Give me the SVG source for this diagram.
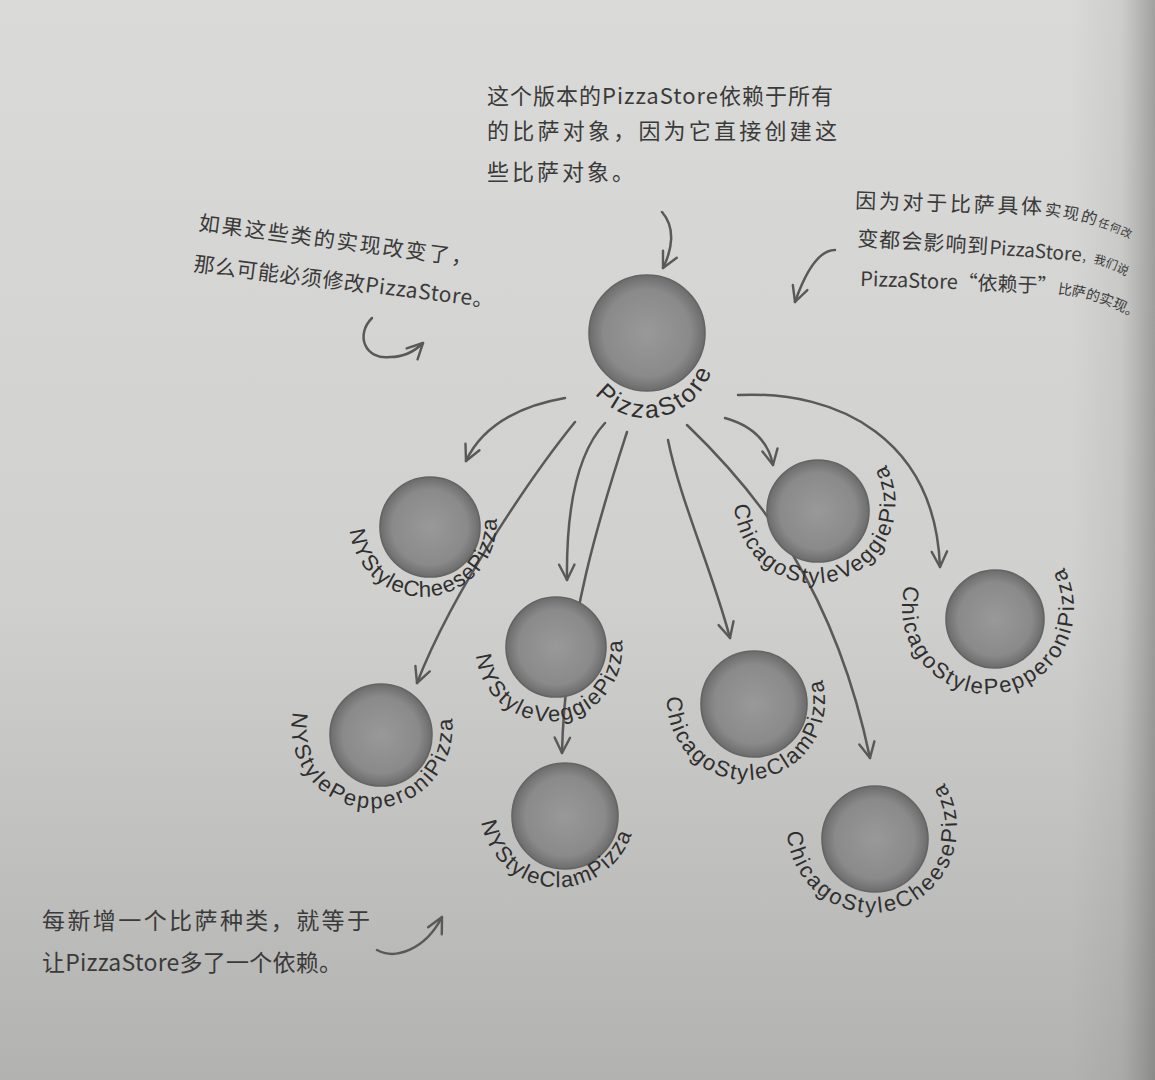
<svg xmlns="http://www.w3.org/2000/svg" width="1155" height="1080" viewBox="0 0 1155 1080">
<style>
.conn{fill:none;stroke:#595959;stroke-width:2.5;stroke-linecap:round;stroke-linejoin:round;marker-end:url(#ah)}
.ball{fill:url(#ballGrad);stroke:#646464;stroke-width:1.6}
.lbl{font-family:"Liberation Sans","DejaVu Sans",sans-serif;font-size:22px;fill:#2f2f2f}
.note{font-family:"Noto Sans CJK SC","Noto Sans",sans-serif;fill:#3a3a3a}
</style>
<defs>
<linearGradient id="paper" x1="0" y1="0" x2="0" y2="1">
<stop offset="0" stop-color="#dadad8"/>
<stop offset="0.55" stop-color="#d0d0ce"/>
<stop offset="1" stop-color="#b2b2b0"/>
</linearGradient>
<linearGradient id="edge" x1="0" y1="0" x2="1" y2="0">
<stop offset="0" stop-color="#6e6e6e" stop-opacity="0"/>
<stop offset="0.6" stop-color="#6e6e6e" stop-opacity="0.12"/>
<stop offset="1" stop-color="#5a5a5a" stop-opacity="0.45"/>
</linearGradient>
<radialGradient id="ballGrad" cx="0.5" cy="0.5" r="0.5">
<stop offset="0" stop-color="#999999"/>
<stop offset="0.75" stop-color="#8a8a8a"/>
<stop offset="1" stop-color="#6c6c6c"/>
</radialGradient>
<marker id="ah" viewBox="0 0 20 20" refX="17" refY="10" markerWidth="22" markerHeight="22" markerUnits="userSpaceOnUse" orient="auto">
<path d="M3,3 L17,10 L3,17" fill="none" stroke="#595959" stroke-width="2.2" stroke-linecap="round" stroke-linejoin="round"/>
</marker>
<path id="lp0" d="M595,393.8 A68,68 0 0 0 714.7,355.9"/>
<path id="lp1" d="M349.9,530.2 A73.5,73.5 0 1 0 494,504"/>
<path id="lp2" d="M476.1,655.2 A73.3,73.3 0 1 0 618.7,625.4"/>
<path id="lp3" d="M293.1,712.1 A80.5,80.5 0 1 0 448.6,703.1"/>
<path id="lp4" d="M481.5,822.1 A77.5,77.5 0 0 0 635.2,816.8"/>
<path id="lp5" d="M734.5,505 A80.5,80.5 0 1 0 876.7,451.3"/>
<path id="lp6" d="M667.1,697 A79,79 0 1 0 816.4,665.1"/>
<path id="lp7" d="M787.1,832 A85,85 0 1 0 934.2,770"/>
<path id="lp8" d="M905.1,585 A86,86 0 1 0 1053.9,552.7"/>
<path id="nr1" d="M855,208 L1035,214 Q1092,218 1145,246"/>
<path id="nr2" d="M857,246 C940,250 1030,257 1088,262 Q1120,268 1145,290"/>
<path id="nr3" d="M860,286 C930,288 1000,291 1052,293 Q1108,298 1145,326"/>
</defs>

<rect x="0" y="0" width="1155" height="1080" fill="url(#paper)"/>
<rect x="1070" y="0" width="85" height="1080" fill="url(#edge)"/>

<g id="connectors">
<path class="conn" d="M565,398 C530,404 485,420 466,461"/>
<path class="conn" d="M575,422 C540,465 455,585 417,683"/>
<path class="conn" d="M605,423 C580,450 566,500 567,580"/>
<path class="conn" d="M627,432 C605,500 565,620 562,753"/>
<path class="conn" d="M668,440 C680,500 712,570 730,638"/>
<path class="conn" d="M687,425 C760,495 835,590 870,758"/>
<path class="conn" d="M725,418 C750,425 768,440 773,465"/>
<path class="conn" d="M738,395 C840,390 935,440 940,567"/>
</g>

<g id="node-PizzaStore">
<circle class="ball" cx="647" cy="333" r="58"/>
<text class="lbl" style="font-size:25px"><textPath href="#lp0" textLength="144">PizzaStore</textPath></text>
</g>
<g id="node-NYStyleCheesePizza">
<circle class="ball" cx="430" cy="527" r="50"/>
<text class="lbl"><textPath href="#lp1" textLength="228">NYStyleCheesePizza</textPath></text>
</g>
<g id="node-NYStyleVeggiePizza">
<circle class="ball" cx="556" cy="647" r="50"/>
<text class="lbl"><textPath href="#lp2" textLength="231">NYStyleVeggiePizza</textPath></text>
</g>
<g id="node-NYStylePepperoniPizza">
<circle class="ball" cx="381" cy="735" r="51"/>
<text class="lbl"><textPath href="#lp3" textLength="278">NYStylePepperoniPizza</textPath></text>
</g>
<g id="node-NYStyleClamPizza">
<circle class="ball" cx="565" cy="816" r="53"/>
<text class="lbl"><textPath href="#lp4" textLength="206">NYStyleClamPizza</textPath></text>
</g>
<g id="node-ChicagoStyleVeggiePizza">
<circle class="ball" cx="818" cy="511" r="51"/>
<text class="lbl"><textPath href="#lp5" textLength="290">ChicagoStyleVeggiePizza</textPath></text>
</g>
<g id="node-ChicagoStyleClamPizza">
<circle class="ball" cx="754" cy="704" r="53"/>
<text class="lbl"><textPath href="#lp6" textLength="273">ChicagoStyleClamPizza</textPath></text>
</g>
<g id="node-ChicagoStyleCheesePizza">
<circle class="ball" cx="875" cy="839" r="53"/>
<text class="lbl"><textPath href="#lp7" textLength="310">ChicagoStyleCheesePizza</textPath></text>
</g>
<g id="node-ChicagoStylePepperoniPizza">
<circle class="ball" cx="995" cy="619" r="49"/>
<text class="lbl"><textPath href="#lp8" textLength="335">ChicagoStylePepperoniPizza</textPath></text>
</g>

<g id="note-top" class="note" font-size="22">
<text x="487" y="104" textLength="346">这个版本的PizzaStore依赖于所有</text>
<text x="487" y="139" textLength="350">的比萨对象，因为它直接创建这</text>
<text x="487" y="180" letter-spacing="3">些比萨对象。</text>
</g>
<g id="note-left" class="note" font-size="21">
<text transform="rotate(7.5 198 230)" x="198" y="230" textLength="276">如果这些类的实现改变了，</text>
<text transform="rotate(7 193 271)" x="193" y="271" textLength="302">那么可能必须修改PizzaStore。</text>
</g>
<g id="note-right" class="note">
<text><textPath href="#nr1"><tspan font-size="21" letter-spacing="2.7">因为对于比萨具体</tspan><tspan font-size="16" letter-spacing="2">实现的</tspan><tspan font-size="11" letter-spacing="1">任何改</tspan></textPath></text>
<text><textPath href="#nr2"><tspan font-size="21" letter-spacing="1">变都会影响到</tspan><tspan font-size="19">PizzaStore</tspan><tspan font-size="12">，我们说</tspan></textPath></text>
<text><textPath href="#nr3"><tspan font-size="20">PizzaStore“依赖于”</tspan><tspan font-size="14">比萨的实现。</tspan></textPath></text>
</g>
<g id="note-bottom" class="note" font-size="23">
<text x="42" y="929" textLength="328">每新增一个比萨种类，就等于</text>
<text x="42" y="971" textLength="300">让PizzaStore多了一个依赖。</text>
</g>

<g id="pointers">
<path class="conn" d="M662,212 C676,228 672,250 663,268"/>
<path class="conn" d="M835,250 C815,250 802,282 795,302"/>
<path class="conn" d="M372,318 C355,335 365,360 390,357 C402,357 414,352 423,343"/>
<path class="conn" d="M377,950 C395,960 425,950 442,917"/>
</g>
</svg>
